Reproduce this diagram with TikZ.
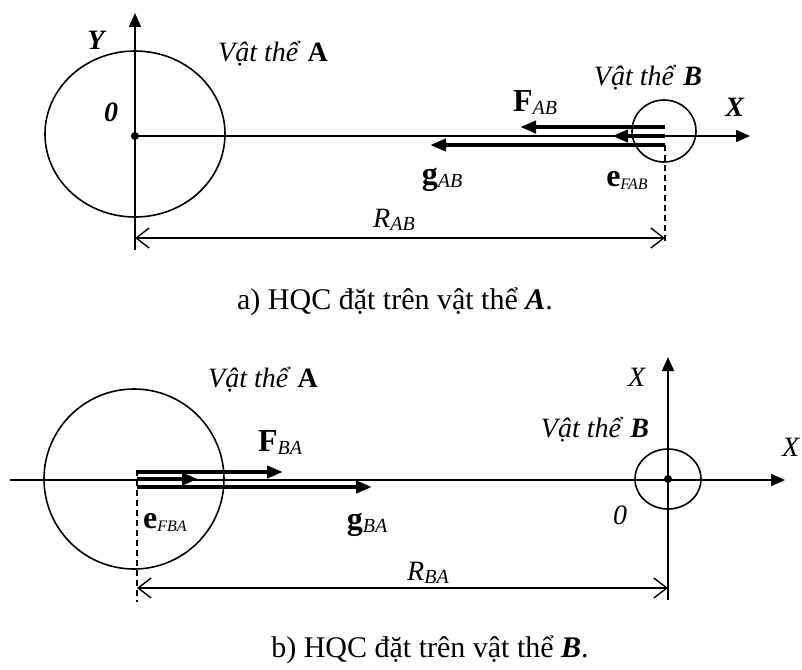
\documentclass[tikz,border=0pt]{standalone}
\usepackage{fontspec}
\setmainfont{Liberation Serif}
\usetikzlibrary{arrows.meta}
\newcommand{\lsub}[1]{\raisebox{-3pt}{\fontsize{20}{20}\selectfont\itshape #1}}
\newcommand{\ssub}[1]{\raisebox{-3pt}{\fontsize{16}{16}\selectfont\itshape #1}}
\newcommand{\bigbf}[1]{{\fontsize{32}{32}\selectfont\bfseries #1}}
\tikzset{
  thinline/.style={line width=1.6pt},
  axisarrow/.style={line width=1.6pt, -{Triangle[length=14pt,width=12pt]}},
  force/.style={line width=4.5pt, -{Triangle[length=16pt,width=12pt]}},
  dimline/.style={line width=1.4pt, {Straight Barb[length=13pt,width=20pt]}-{Straight Barb[length=13pt,width=20pt]}},
  dashline/.style={line width=1.5pt, dash pattern=on 6pt off 4pt},
  lbl/.style={font=\fontsize{28}{30}\selectfont, inner sep=0pt},
  captext/.style={font=\fontsize{30}{32}\selectfont, inner sep=0pt}
}
\begin{document}
\begin{tikzpicture}[x=1pt,y=-1pt]
\useasboundingbox (0,0) rectangle (802,669);
% ---------- panel a ----------
\coordinate (OA) at (135,136);
\coordinate (CA) at (135,134);
\coordinate (Ybot) at (135,250);
\coordinate (Ytop) at (135,13);
\coordinate (Xend) at (750,136);
\coordinate (CB) at (664,131);
\coordinate (Fs) at (665,127); \coordinate (Fe) at (520,127);
\coordinate (Es) at (665,136); \coordinate (Ee) at (612,136);
\coordinate (Gs) at (665,145); \coordinate (Ge) at (430,145);
\coordinate (Dtop) at (665,145); \coordinate (Dbot) at (665,245);
\coordinate (RL) at (135,238); \coordinate (RR) at (665,238);

\draw[thinline] (CA) ellipse [x radius=90pt, y radius=83pt];
\draw[thinline] (CB) ellipse [x radius=32pt, y radius=31pt];
\draw[axisarrow] (Ybot) -- (Ytop);
\draw[axisarrow] (OA) -- (Xend);
\fill (OA) circle (4pt);
\draw[force] (Fs) -- (Fe);
\draw[force] (Es) -- (Ee);
\draw[force] (Gs) -- (Ge);
\draw[dashline] (Dtop) -- (Dbot);
\draw[dimline] (RL) -- (RR);

\node[lbl] (ly) at (97,40) {\textbf{\textit{Y}}};
\node[lbl] (l0a) at (111,112) {\textbf{\textit{0}}};
\node[lbl] (lva) at (273,54) {\textit{Vật thể} \textbf{A}};
\node[lbl] (lxa) at (735,107) {\textbf{\textit{X}}};
\node[lbl] (lvb) at (648,78) {\textit{Vật thể} \textbf{\textit{B}}};
\node[lbl] (lfab) at (535,103) {\bigbf{F}\lsub{AB}};
\node[lbl] (lgab) at (442,180) {\bigbf{g}\lsub{AB}};
\node[lbl] (leab) at (627,180) {\bigbf{e}\ssub{FAB}};
\node[lbl] (lrab) at (394,220) {\textit{R}\lsub{AB}};
\node[captext] (capa) at (395,302) {a) HQC đặt trên vật thể \textbf{\textit{A}}.};

% ---------- panel b ----------
\coordinate (AxL) at (10,480);
\coordinate (AxR) at (785,480);
\coordinate (CA2) at (134,479);
\coordinate (OB) at (668,479);
\coordinate (CB2) at (668,479);
\coordinate (Vbot) at (668,600); \coordinate (Vtop) at (668,357);
\coordinate (F2s) at (137,472); \coordinate (F2e) at (283,472);
\coordinate (E2s) at (137,479); \coordinate (E2e) at (198,479);
\coordinate (G2s) at (137,487); \coordinate (G2e) at (372,487);
\coordinate (D2top) at (137,470); \coordinate (D2bot) at (137,602);
\coordinate (R2L) at (137,588); \coordinate (R2R) at (668,588);

\draw[axisarrow] (AxL) -- (AxR);
\draw[thinline] (CA2) circle [radius=90pt];
\draw[thinline] (CB2) ellipse [x radius=33pt, y radius=30pt];
\draw[axisarrow] (Vbot) -- (Vtop);
\fill (OB) circle (4pt);
\draw[force] (F2s) -- (F2e);
\draw[force] (E2s) -- (E2e);
\draw[force] (G2s) -- (G2e);
\draw[dashline] (D2top) -- (D2bot);
\draw[dimline] (R2L) -- (R2R);

\node[lbl] (lva2) at (263,380) {\textit{Vật thể} \textbf{A}};
\node[lbl] (lfba) at (280,443) {\bigbf{F}\lsub{BA}};
\node[lbl] (leba) at (165,522) {\bigbf{e}\ssub{FBA}};
\node[lbl] (lgba) at (367,525) {\bigbf{g}\lsub{BA}};
\node[lbl] (lxv) at (637,377) {\textit{X}};
\node[lbl] (lxh) at (791,447) {\textit{X}};
\node[lbl] (lvb2) at (595,430) {\textit{Vật thể} \textbf{\textit{B}}};
\node[lbl] (l0b) at (620,515) {\textit{0}};
\node[lbl] (lrba) at (428,573) {\textit{R}\lsub{BA}};
\node[captext] (capb) at (430,650) {b) HQC đặt trên vật thể \textbf{\textit{B}}.};
\end{tikzpicture}
\end{document}
